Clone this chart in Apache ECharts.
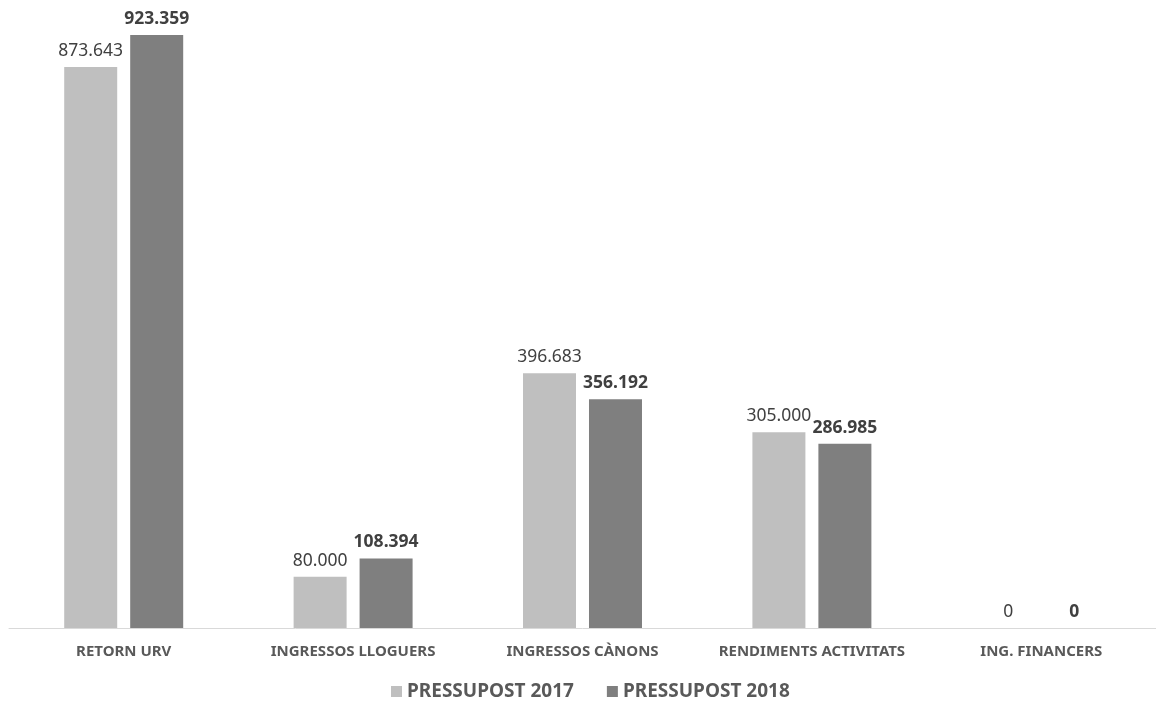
<!DOCTYPE html>
<html>
<head>
<meta charset="utf-8">
<script src="https://cdn.jsdelivr.net/npm/echarts@6/dist/echarts.min.js"></script>
<style>html,body{margin:0;padding:0;background:#fff}#c{width:1156px;height:705px}</style>
</head>
<body>
<div id="c"></div>
<script>
const categories = ['RETORN URV', 'INGRESSOS LLOGUERS', 'INGRESSOS CÀNONS', 'RENDIMENTS ACTIVITATS', 'ING. FINANCERS'];
const seriesNames = ['PRESSUPOST 2017', 'PRESSUPOST 2018'];
const values2017 = [873.643, 80.000, 396.683, 305.000, 0];
const values2018 = [923.359, 108.394, 356.192, 286.985, 0];

const fmt = v => v === 0 ? '0' : v.toFixed(3);
const FONT = 'Noto Sans';
const chart = echarts.init(document.getElementById('c'));
chart.setOption({
  animation: false,
  textStyle: { fontFamily: FONT },
  grid: { left: 9, right: -3, top: 18, bottom: 77, containLabel: false },
  legend: {
    data: seriesNames,
    top: 682,
    left: 391,
    padding: 0,
    itemWidth: 11,
    itemHeight: 11,
    itemGap: 33,
    icon: 'rect',
    textStyle: { fontFamily: FONT, fontSize: 19, fontWeight: 'bold', color: '#595959', padding: [0, 0, 0, 0] }
  },
  xAxis: {
    type: 'category',
    data: categories,
    axisLine: { lineStyle: { color: '#d9d9d9', width: 1 } },
    axisTick: { show: false },
    axisLabel: { margin: 16, fontFamily: FONT, fontSize: 15, fontWeight: 'bold', color: '#595959', interval: 0 }
  },
  yAxis: {
    type: 'value',
    min: 0,
    max: 950,
    show: false,
    splitLine: { show: false }
  },
  series: [
    {
      name: seriesNames[0], type: 'bar', data: values2017,
      barWidth: 53, barGap: '24.5%',
      itemStyle: { color: '#bfbfbf' },
      label: { show: true, position: 'top', distance: 7, formatter: p => fmt(p.value), fontFamily: FONT, fontSize: 17.5, color: '#404040' }
    },
    {
      name: seriesNames[1], type: 'bar', data: values2018,
      barWidth: 53,
      itemStyle: { color: '#7f7f7f' },
      label: { show: true, position: 'top', distance: 7, formatter: p => fmt(p.value), fontFamily: FONT, fontSize: 17.5, fontWeight: 'bold', color: '#404040' }
    }
  ]
});
</script>
</body>
</html>
